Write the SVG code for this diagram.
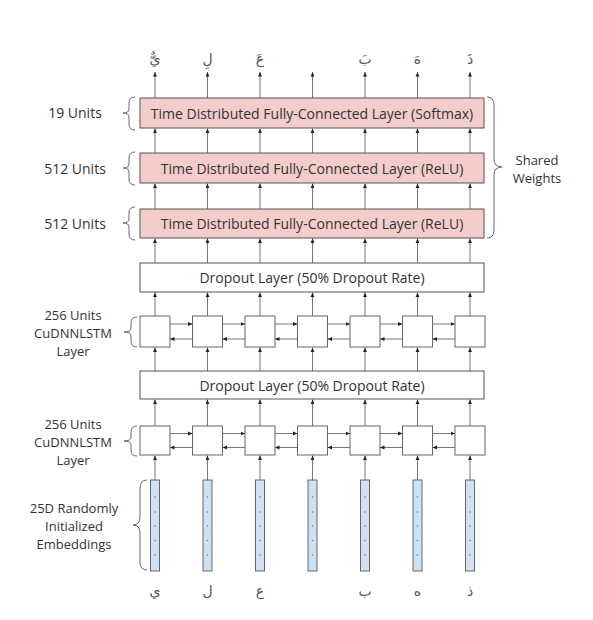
<svg xmlns="http://www.w3.org/2000/svg" width="593" height="620" viewBox="0 0 593 620">
<style>
  .btxt{font-family:"Open Sans","DejaVu Sans",sans-serif;font-size:14px;fill:#333;text-anchor:middle;dominant-baseline:central;}
  .side{font-family:"Open Sans","DejaVu Sans",sans-serif;font-size:14px;fill:#333;text-anchor:middle;}
  .multi{font-family:"Open Sans","DejaVu Sans",sans-serif;font-size:13px;fill:#333;text-anchor:middle;}
  .ar{font-family:"DejaVu Sans",sans-serif;font-size:14px;fill:#555;text-anchor:middle;}
  .pink{fill:#f4cccc;stroke:#555;stroke-width:1;}
  .white{fill:#fff;stroke:#555;stroke-width:1;}
  .cell{fill:#fff;stroke:#666;stroke-width:1;}
  .emb{fill:#cfe2f3;stroke:#666;stroke-width:1;}
  .dot{fill:#777;}
  .conn line{stroke:#777;stroke-width:1;marker-end:url(#ah);}
  .brace{fill:none;stroke:#666;stroke-width:1;}
</style>
<defs>
  <marker id="ah" markerWidth="6" markerHeight="6" refX="4.5" refY="2.5" orient="auto" markerUnits="userSpaceOnUse">
    <path d="M0,0.6 L4.5,2.5 L0,4.4 z" fill="#222"/>
  </marker>
</defs>
<rect width="593" height="620" fill="#fff"/>

<!-- connectors -->
<g id="connectors" class="conn">
  <!-- outputs -->
  <line x1="155" y1="98" x2="155" y2="72"/><line x1="207.5" y1="98" x2="207.5" y2="72"/><line x1="260" y1="98" x2="260" y2="72"/><line x1="312.5" y1="98" x2="312.5" y2="72"/><line x1="365" y1="98" x2="365" y2="72"/><line x1="417.5" y1="98" x2="417.5" y2="72"/><line x1="470" y1="98" x2="470" y2="72"/>
  <!-- relu1 -> softmax -->
  <line x1="155" y1="153" x2="155" y2="128.5"/><line x1="207.5" y1="153" x2="207.5" y2="128.5"/><line x1="260" y1="153" x2="260" y2="128.5"/><line x1="312.5" y1="153" x2="312.5" y2="128.5"/><line x1="365" y1="153" x2="365" y2="128.5"/><line x1="417.5" y1="153" x2="417.5" y2="128.5"/><line x1="470" y1="153" x2="470" y2="128.5"/>
  <!-- relu2 -> relu1 -->
  <line x1="155" y1="209" x2="155" y2="183.5"/><line x1="207.5" y1="209" x2="207.5" y2="183.5"/><line x1="260" y1="209" x2="260" y2="183.5"/><line x1="312.5" y1="209" x2="312.5" y2="183.5"/><line x1="365" y1="209" x2="365" y2="183.5"/><line x1="417.5" y1="209" x2="417.5" y2="183.5"/><line x1="470" y1="209" x2="470" y2="183.5"/>
  <!-- dropout1 -> relu2 -->
  <line x1="155" y1="263" x2="155" y2="238.5"/><line x1="207.5" y1="263" x2="207.5" y2="238.5"/><line x1="260" y1="263" x2="260" y2="238.5"/><line x1="312.5" y1="263" x2="312.5" y2="238.5"/><line x1="365" y1="263" x2="365" y2="238.5"/><line x1="417.5" y1="263" x2="417.5" y2="238.5"/><line x1="470" y1="263" x2="470" y2="238.5"/>
  <!-- lstm1 -> dropout1 -->
  <line x1="155" y1="316" x2="155" y2="292.5"/><line x1="207.5" y1="316" x2="207.5" y2="292.5"/><line x1="260" y1="316" x2="260" y2="292.5"/><line x1="312.5" y1="316" x2="312.5" y2="292.5"/><line x1="365" y1="316" x2="365" y2="292.5"/><line x1="417.5" y1="316" x2="417.5" y2="292.5"/><line x1="470" y1="316" x2="470" y2="292.5"/>
  <!-- dropout2 -> lstm1 -->
  <line x1="155" y1="371" x2="155" y2="347.5"/><line x1="207.5" y1="371" x2="207.5" y2="347.5"/><line x1="260" y1="371" x2="260" y2="347.5"/><line x1="312.5" y1="371" x2="312.5" y2="347.5"/><line x1="365" y1="371" x2="365" y2="347.5"/><line x1="417.5" y1="371" x2="417.5" y2="347.5"/><line x1="470" y1="371" x2="470" y2="347.5"/>
  <!-- lstm2 -> dropout2 -->
  <line x1="155" y1="426" x2="155" y2="399.5"/><line x1="207.5" y1="426" x2="207.5" y2="399.5"/><line x1="260" y1="426" x2="260" y2="399.5"/><line x1="312.5" y1="426" x2="312.5" y2="399.5"/><line x1="365" y1="426" x2="365" y2="399.5"/><line x1="417.5" y1="426" x2="417.5" y2="399.5"/><line x1="470" y1="426" x2="470" y2="399.5"/>
  <!-- emb -> lstm2 -->
  <line x1="155" y1="480" x2="155" y2="455.5"/><line x1="207.5" y1="480" x2="207.5" y2="455.5"/><line x1="260" y1="480" x2="260" y2="455.5"/><line x1="312.5" y1="480" x2="312.5" y2="455.5"/><line x1="365" y1="480" x2="365" y2="455.5"/><line x1="417.5" y1="480" x2="417.5" y2="455.5"/><line x1="470" y1="480" x2="470" y2="455.5"/>
  <!-- lstm1 forward / backward -->
  <line x1="170" y1="324" x2="192.5" y2="324"/><line x1="222.5" y1="324" x2="245" y2="324"/><line x1="275" y1="324" x2="297.5" y2="324"/><line x1="327.5" y1="324" x2="350" y2="324"/><line x1="380" y1="324" x2="402.5" y2="324"/><line x1="432.5" y1="324" x2="455" y2="324"/>
  <line x1="192.5" y1="339" x2="170" y2="339"/><line x1="245" y1="339" x2="222.5" y2="339"/><line x1="297.5" y1="339" x2="275" y2="339"/><line x1="350" y1="339" x2="327.5" y2="339"/><line x1="402.5" y1="339" x2="380" y2="339"/><line x1="455" y1="339" x2="432.5" y2="339"/>
  <!-- lstm2 forward / backward -->
  <line x1="170" y1="433.5" x2="192.5" y2="433.5"/><line x1="222.5" y1="433.5" x2="245" y2="433.5"/><line x1="275" y1="433.5" x2="297.5" y2="433.5"/><line x1="327.5" y1="433.5" x2="350" y2="433.5"/><line x1="380" y1="433.5" x2="402.5" y2="433.5"/><line x1="432.5" y1="433.5" x2="455" y2="433.5"/>
  <line x1="192.5" y1="447.5" x2="170" y2="447.5"/><line x1="245" y1="447.5" x2="222.5" y2="447.5"/><line x1="297.5" y1="447.5" x2="275" y2="447.5"/><line x1="350" y1="447.5" x2="327.5" y2="447.5"/><line x1="402.5" y1="447.5" x2="380" y2="447.5"/><line x1="455" y1="447.5" x2="432.5" y2="447.5"/>
</g>

<!-- output letters -->
<g id="outputs">
  <text class="ar" x="155" y="64">يٌّ</text>
  <text class="ar" x="207.5" y="64">لِ</text>
  <text class="ar" x="260" y="64">عَ</text>
  <text class="ar" x="365" y="64">بَ</text>
  <text class="ar" x="417.5" y="64">هَ</text>
  <text class="ar" x="470" y="64">ذَ</text>
</g>

<g id="softmax">
  <rect class="pink" x="140" y="98" width="344" height="30"/>
  <text class="btxt" x="312" y="113">Time Distributed Fully-Connected Layer (Softmax)</text>
</g>
<g id="relu1">
  <rect class="pink" x="140" y="153" width="344" height="30"/>
  <text class="btxt" x="312" y="168">Time Distributed Fully-Connected Layer (ReLU)</text>
</g>
<g id="relu2">
  <rect class="pink" x="140" y="209" width="344" height="29"/>
  <text class="btxt" x="312" y="223.5">Time Distributed Fully-Connected Layer (ReLU)</text>
</g>
<g id="dropout1">
  <rect class="white" x="140" y="263" width="344" height="29"/>
  <text class="btxt" x="312" y="277.5">Dropout Layer (50% Dropout Rate)</text>
</g>
<g id="lstm1">
  <rect class="cell" x="140" y="316" width="30" height="31"/>
  <rect class="cell" x="192.5" y="316" width="30" height="31"/>
  <rect class="cell" x="245" y="316" width="30" height="31"/>
  <rect class="cell" x="297.5" y="316" width="30" height="31"/>
  <rect class="cell" x="350" y="316" width="30" height="31"/>
  <rect class="cell" x="402.5" y="316" width="30" height="31"/>
  <rect class="cell" x="455" y="316" width="30" height="31"/>
</g>
<g id="dropout2">
  <rect class="white" x="140" y="371" width="344" height="28"/>
  <text class="btxt" x="312" y="385">Dropout Layer (50% Dropout Rate)</text>
</g>
<g id="lstm2">
  <rect class="cell" x="140" y="426" width="30" height="29"/>
  <rect class="cell" x="192.5" y="426" width="30" height="29"/>
  <rect class="cell" x="245" y="426" width="30" height="29"/>
  <rect class="cell" x="297.5" y="426" width="30" height="29"/>
  <rect class="cell" x="350" y="426" width="30" height="29"/>
  <rect class="cell" x="402.5" y="426" width="30" height="29"/>
  <rect class="cell" x="455" y="426" width="30" height="29"/>
</g>
<g id="embeddings">
  <rect class="emb" x="150.5" y="480" width="9" height="91"/>
  <rect class="emb" x="203" y="480" width="9" height="91"/>
  <rect class="emb" x="255.5" y="480" width="9" height="91"/>
  <rect class="emb" x="308" y="480" width="9" height="91"/>
  <rect class="emb" x="360.5" y="480" width="9" height="91"/>
  <rect class="emb" x="413" y="480" width="9" height="91"/>
  <rect class="emb" x="465.5" y="480" width="9" height="91"/>
  <g class="dot">
    <circle cx="155" cy="497" r="0.8"/><circle cx="155" cy="512" r="0.8"/><circle cx="155" cy="526" r="0.8"/><circle cx="155" cy="540.5" r="0.8"/><circle cx="155" cy="555" r="0.8"/>
    <circle cx="207.5" cy="497" r="0.8"/><circle cx="207.5" cy="512" r="0.8"/><circle cx="207.5" cy="526" r="0.8"/><circle cx="207.5" cy="540.5" r="0.8"/><circle cx="207.5" cy="555" r="0.8"/>
    <circle cx="260" cy="497" r="0.8"/><circle cx="260" cy="512" r="0.8"/><circle cx="260" cy="526" r="0.8"/><circle cx="260" cy="540.5" r="0.8"/><circle cx="260" cy="555" r="0.8"/>
    <circle cx="312.5" cy="497" r="0.8"/><circle cx="312.5" cy="512" r="0.8"/><circle cx="312.5" cy="526" r="0.8"/><circle cx="312.5" cy="540.5" r="0.8"/><circle cx="312.5" cy="555" r="0.8"/>
    <circle cx="365" cy="497" r="0.8"/><circle cx="365" cy="512" r="0.8"/><circle cx="365" cy="526" r="0.8"/><circle cx="365" cy="540.5" r="0.8"/><circle cx="365" cy="555" r="0.8"/>
    <circle cx="417.5" cy="497" r="0.8"/><circle cx="417.5" cy="512" r="0.8"/><circle cx="417.5" cy="526" r="0.8"/><circle cx="417.5" cy="540.5" r="0.8"/><circle cx="417.5" cy="555" r="0.8"/>
    <circle cx="470" cy="497" r="0.8"/><circle cx="470" cy="512" r="0.8"/><circle cx="470" cy="526" r="0.8"/><circle cx="470" cy="540.5" r="0.8"/><circle cx="470" cy="555" r="0.8"/>
  </g>
</g>

<!-- input letters -->
<g id="inputs">
  <text class="ar" x="155" y="596">ي</text>
  <text class="ar" x="207.5" y="596">ل</text>
  <text class="ar" x="260" y="596">ع</text>
  <text class="ar" x="365" y="596">ب</text>
  <text class="ar" x="417.5" y="596">ه</text>
  <text class="ar" x="470" y="596">ذ</text>
</g>

<!-- side labels and braces -->
<g id="label-softmax">
  <text class="side" x="75" y="118">19 Units</text>
  <path class="brace" d="M135,97 Q129,97 129,103 L129,109 Q129,113 123,113 Q129,113 129,117 L129,124 Q129,130 135,130"/>
</g>
<g id="label-relu1">
  <text class="side" x="75" y="173.5">512 Units</text>
  <path class="brace" d="M135,152 Q129,152 129,158 L129,164 Q129,168 123,168 Q129,168 129,172 L129,179 Q129,185 135,185"/>
</g>
<g id="label-relu2">
  <text class="side" x="75" y="228.5">512 Units</text>
  <path class="brace" d="M135,207 Q129,207 129,213 L129,219 Q129,223 123,223 Q129,223 129,227 L129,234 Q129,240 135,240"/>
</g>
<g id="label-shared">
  <path class="brace" d="M487,97 Q494,97 494,105 L494,159 Q494,167 502,167 Q494,167 494,175 L494,230 Q494,238 487,238"/>
  <text class="multi" x="537" y="165">Shared</text>
  <text class="multi" x="537" y="183">Weights</text>
</g>
<g id="label-lstm1">
  <text class="multi" x="73" y="320">256 Units</text>
  <text class="multi" x="73" y="338">CuDNNLSTM</text>
  <text class="multi" x="73" y="356">Layer</text>
  <path class="brace" d="M137,317 Q131,317 131,323 L131,328 Q131,332 124,332 Q131,332 131,336 L131,341 Q131,347 137,347"/>
</g>
<g id="label-lstm2">
  <text class="multi" x="73" y="429">256 Units</text>
  <text class="multi" x="73" y="447">CuDNNLSTM</text>
  <text class="multi" x="73" y="465">Layer</text>
  <path class="brace" d="M137,426 Q131,426 131,432 L131,437 Q131,441 124,441 Q131,441 131,445 L131,450 Q131,456 137,456"/>
</g>
<g id="label-emb">
  <text class="multi" x="74" y="513">25D Randomly</text>
  <text class="multi" x="74" y="531">Initialized</text>
  <text class="multi" x="74" y="549">Embeddings</text>
  <path class="brace" d="M147,480 Q140,480 140,488 L140,517 Q140,525 133,525 Q140,525 140,533 L140,562 Q140,570 147,570"/>
</g>
</svg>
